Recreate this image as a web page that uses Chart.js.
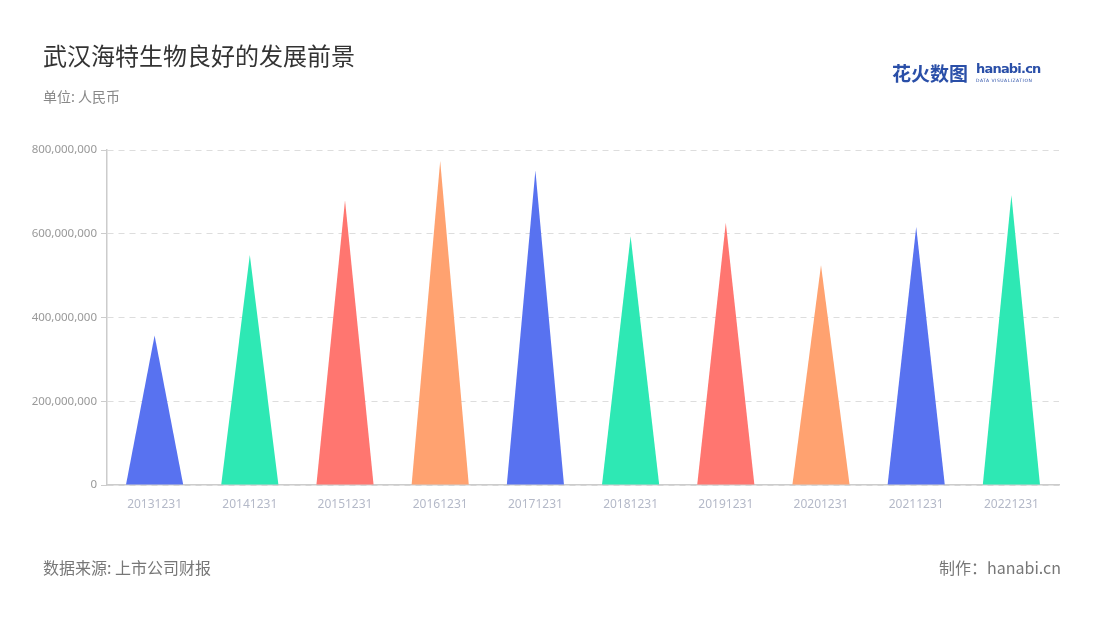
<!DOCTYPE html>
<html>
<head>
<meta charset="utf-8">
<script src="https://cdn.jsdelivr.net/npm/chart.js@4"></script>
<style>
  body { margin: 0; background: #fff; font-family: "Noto Sans CJK SC", "Noto Sans", sans-serif; }
  #wrap { position: relative; width: 1100px; height: 620px; overflow: hidden; }
  #wrap canvas { position: absolute; left: 0; top: 0; }
  .txt { position: absolute; white-space: nowrap; }
  #title { left: 43px; top: 37px; font-size: 24px; color: #333; }
  #unit { left: 43px; top: 86px; font-size: 14px; color: #888; }
  #source { left: 43px; top: 555px; font-size: 16px; color: #777; }
  #maker { right: 39px; top: 555px; font-size: 16px; color: #777; }
  #logo { left: 892px; top: 59px; color: #2a4fa8; }
  #logo .cn { font-size: 19px; font-weight: bold; letter-spacing: 0px; }
  #logo .en { position: absolute; left: 84px; top: 2px; font-family: "DejaVu Sans"; font-size: 13px; font-weight: bold; letter-spacing: -0.8px; }
  #logo .sub { position: absolute; left: 84px; top: 19px; font-family: "DejaVu Sans"; font-size: 4.5px; letter-spacing: 0.5px; }
</style>
</head>
<body>
<div id="wrap">
  <canvas id="c" width="1100" height="620"></canvas>
  <div class="txt" id="title">武汉海特生物良好的发展前景</div>
  <div class="txt" id="unit">单位: 人民币</div>
  <div class="txt" id="logo"><span class="cn">花火数图</span><span class="en">hanabi.cn</span><span class="sub">DATA VISUALIZATION</span></div>
  <div class="txt" id="source">数据来源: 上市公司财报</div>
  <div class="txt" id="maker">制作：hanabi.cn</div>
</div>
<script>
const dates = ["20131231", "20141231", "20151231", "20161231", "20171231",
               "20181231", "20191231", "20201231", "20211231", "20221231"];
const values = [357000000, 549000000, 680000000, 774000000, 751000000,
                594000000, 626000000, 525000000, 616000000, 692000000];
const palette = ["#5872f0", "#2ee8b4", "#ff7670", "#ffa270"];

// draw each bar as a triangle using the bar element geometry
const trianglePlugin = {
  id: "triangles",
  beforeDatasetDraw: function (chart, args) {
    const ctx = chart.ctx;
    const meta = args.meta;
    ctx.save();
    meta.data.forEach(function (bar, i) {
      const p = bar.getProps(["x", "y", "base", "width"], true);
      ctx.beginPath();
      ctx.moveTo(p.x - p.width / 2, p.base);
      ctx.lineTo(p.x, p.y);
      ctx.lineTo(p.x + p.width / 2, p.base);
      ctx.closePath();
      ctx.fillStyle = palette[i % palette.length];
      ctx.fill();
    });
    ctx.restore();
    return false;
  }
};

new Chart(document.getElementById("c").getContext("2d"), {
  type: "bar",
  data: {
    labels: dates,
    datasets: [{
      data: values,
      backgroundColor: dates.map((d, i) => palette[i % palette.length]),
      barPercentage: 0.6,
      categoryPercentage: 1.0
    }]
  },
  plugins: [trianglePlugin],
  options: {
    responsive: false,
    animation: false,
    layout: { padding: { top: 150, right: 41, bottom: 0, left: 0 } },
    plugins: { legend: { display: false }, tooltip: { enabled: false } },
    scales: {
      x: {
        grid: { display: false, drawOnChartArea: false },
        border: { color: "#ccc", width: 1.5 },
        ticks: { color: "#b4b9c8", font: { family: "Noto Sans", size: 12 }, padding: 4 },
        afterFit: function (axis) { axis.height = 135; }
      },
      y: {
        min: 0,
        max: 800000000,
        ticks: {
          stepSize: 200000000,
          color: "#999",
          font: { family: "Noto Sans", size: 11.5 },
          padding: 4,
          callback: (v) => v.toLocaleString("en-US")
        },
        grid: {
          color: "#dddddd",
          tickColor: "#ccc",
          tickLength: 6,
          drawTicks: true
        },
        border: { color: "#ccc", width: 1.5, dash: [6, 5] },
        afterFit: function (axis) { axis.width = 107; }
      }
    }
  }
});
</script>
</body>
</html>
